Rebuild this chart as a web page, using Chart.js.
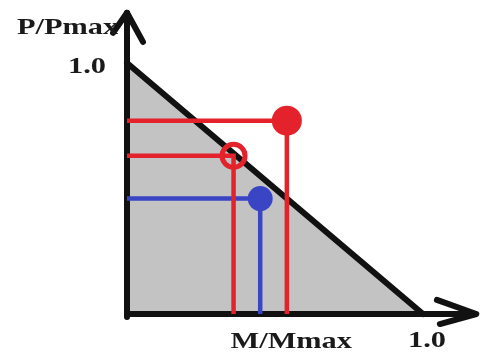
<!DOCTYPE html>
<html>
<head>
<meta charset="utf-8">
<script src="https://cdn.jsdelivr.net/npm/chart.js@4"></script>
<style>
  html, body { margin: 0; padding: 0; background: #fff; }
  canvas { display: block; }
</style>
</head>
<body>
<canvas id="chart" width="484" height="356"></canvas>
<script>
// interaction envelope: straight line between the two capacities
const envelopeM = [0, 1];
const envelopeP = [1, 0];

// load cases (M/Mmax, P/Pmax)
const loadM = [0.54, 0.36, 0.45];
const loadP = [0.77, 0.63, 0.46];

// axis text
const xTitle = 'M/Mmax';
const yTitle = 'P/Pmax';
const xTickLabels = ['1.0'];
const yTickLabels = ['1.0'];
const tickValues = [1];

const RED = '#e3222b';
const BLUE = '#3a45c6';
const INK = '#111';
const AXIS_END_X = 1.18;
const AXIS_END_Y = 1.2;

const pts = (xs, ys) => xs.map((x, i) => ({ x, y: ys[i] }));

// guide lines: from the P axis over to the point, then down to the M axis
function guide(i, color) {
  return {
    data: [{ x: 0, y: loadP[i] }, { x: loadM[i], y: loadP[i] }, { x: loadM[i], y: 0 }],
    borderColor: color,
    borderWidth: 4.5,
    pointRadius: 0,
    fill: false,
    order: 3
  };
}

function marker(i, opts) {
  return Object.assign({
    data: [{ x: loadM[i], y: loadP[i] }],
    showLine: false,
    order: 1
  }, opts);
}

const axisStyle = {
  borderColor: INK,
  borderWidth: 6,
  borderCapStyle: 'round',
  borderJoinStyle: 'round',
  pointRadius: 0,
  fill: false,
  order: 4
};

const datasets = [
  // shaded safe region under the envelope
  {
    data: pts(envelopeM, envelopeP),
    borderColor: INK,
    borderWidth: 6,
    borderCapStyle: 'round',
    backgroundColor: '#c3c3c3',
    pointRadius: 0,
    fill: 'origin',
    order: 5
  },
  // axes with arrow heads
  Object.assign({ data: [{ x: 0, y: AXIS_END_Y }, { x: 0, y: -0.012 }] }, axisStyle, { borderCapStyle: 'butt' }),
  Object.assign({ data: [{ x: -0.01, y: 0 }, { x: AXIS_END_X, y: 0 }] }, axisStyle, { borderCapStyle: 'butt' }),
  Object.assign({ data: [{ x: -0.047, y: 1.12 }, { x: 0, y: AXIS_END_Y }, { x: 0.054, y: 1.084 }] }, axisStyle),
  Object.assign({ data: [{ x: 1.047, y: 0.056 }, { x: AXIS_END_X, y: 0 }, { x: 1.057, y: -0.04 }] }, axisStyle),
  guide(0, RED),
  guide(1, RED),
  guide(2, BLUE),
  marker(0, { pointRadius: 15, pointBackgroundColor: RED, pointBorderWidth: 0 }),
  marker(1, { pointRadius: 11.5, pointBackgroundColor: 'rgba(0,0,0,0)', pointBorderColor: RED, pointBorderWidth: 5 }),
  marker(2, { pointRadius: 12.5, pointBackgroundColor: BLUE, pointBorderWidth: 0 })
];
datasets.forEach(d => { d.clip = false; d.tension = 0; });

// bold serif text, stretched sideways a little
function stretchedText(ctx, text, x, y, align) {
  ctx.save();
  ctx.font = 'bold 23px "Liberation Serif", "Times New Roman", serif';
  ctx.fillStyle = '#1a1a1a';
  ctx.textBaseline = 'alphabetic';
  const sx = 1.32;
  const w = ctx.measureText(text).width * sx;
  let left = x;
  if (align === 'center') left = x - w / 2;
  if (align === 'right') left = x - w;
  ctx.translate(left, y);
  ctx.scale(sx, 1);
  ctx.fillText(text, 0, 0);
  ctx.restore();
}

const labelPlugin = {
  id: 'axisText',
  afterDatasetsDraw(chart) {
    const { ctx, scales: { x, y } } = chart;
    const x0 = x.getPixelForValue(0);
    const y0 = y.getPixelForValue(0);
    tickValues.forEach((v, i) => {
      stretchedText(ctx, yTickLabels[i], x0 - 21, y.getPixelForValue(v) + 10, 'right');
      stretchedText(ctx, xTickLabels[i], x.getPixelForValue(v) + 4, y0 + 33, 'center');
    });
    stretchedText(ctx, yTitle, x0 - 110, y.getPixelForValue(AXIS_END_Y) + 21, 'left');
    stretchedText(ctx, xTitle, x.getPixelForValue(0.555), y0 + 34, 'center');
  }
};

new Chart(document.getElementById('chart'), {
  type: 'line',
  data: { datasets },
  options: {
    responsive: false,
    animation: false,
    layout: { padding: { left: 127, right: 61, top: 63, bottom: 42 } },
    scales: {
      x: { type: 'linear', min: 0, max: 1, display: false },
      y: { type: 'linear', min: 0, max: 1, display: false }
    },
    plugins: { legend: { display: false }, tooltip: { enabled: false } }
  },
  plugins: [labelPlugin]
});
</script>
</body>
</html>
